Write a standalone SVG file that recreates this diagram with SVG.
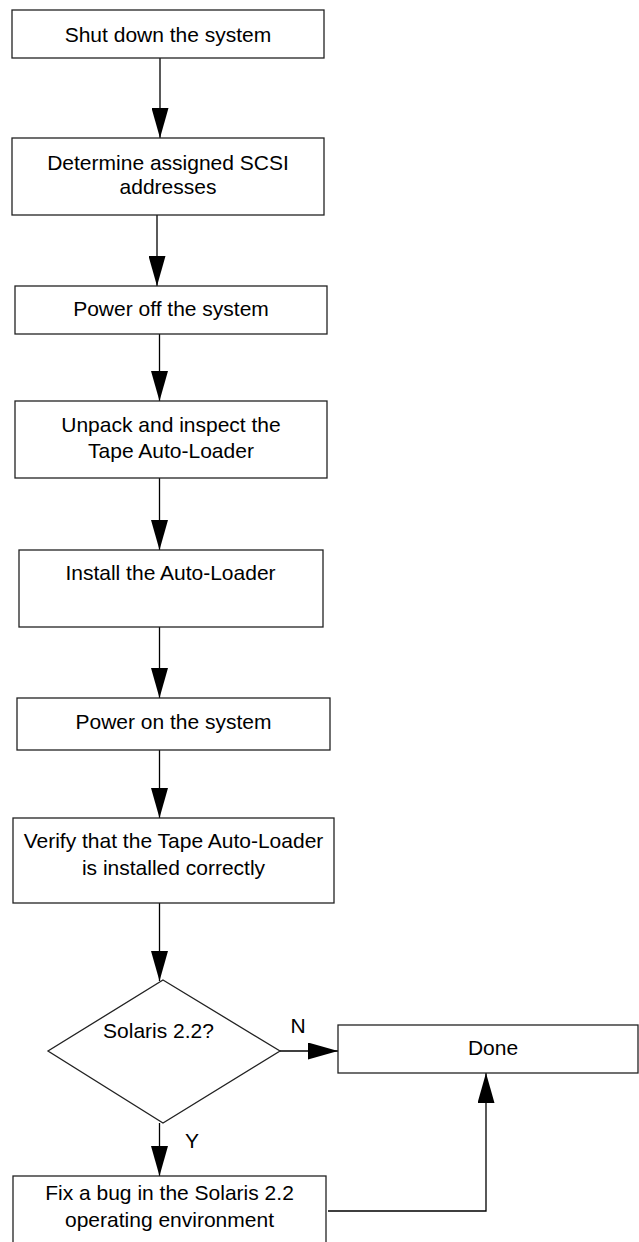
<svg xmlns="http://www.w3.org/2000/svg" width="639" height="1242" viewBox="0 0 639 1242">
<style>
.box{fill:#fff;stroke:#222;stroke-width:1.3}
.t{font-family:"Liberation Sans",Arial,sans-serif;font-size:21px;fill:#000;text-anchor:middle}
.c{fill:none;stroke:#000;stroke-width:1.3}
</style>
<defs>
<marker id="ah" markerUnits="userSpaceOnUse" markerWidth="30" markerHeight="17" refX="30" refY="8.5" orient="auto" viewBox="0 0 30 17">
<path d="M0,0 L30,8.5 L0,17 z" fill="#000"/>
</marker>
</defs>
<rect width="639" height="1242" fill="#fff"/>
<g id="connectors">
<line class="c" x1="160" y1="58" x2="160" y2="138" marker-end="url(#ah)"/>
<line class="c" x1="157" y1="215" x2="157" y2="286" marker-end="url(#ah)"/>
<line class="c" x1="159.5" y1="334" x2="159.5" y2="401" marker-end="url(#ah)"/>
<line class="c" x1="159.5" y1="478" x2="159.5" y2="550" marker-end="url(#ah)"/>
<line class="c" x1="159.5" y1="627" x2="159.5" y2="698" marker-end="url(#ah)"/>
<line class="c" x1="159.5" y1="750" x2="159.5" y2="818" marker-end="url(#ah)"/>
<line class="c" x1="159.5" y1="903" x2="159.5" y2="981" marker-end="url(#ah)"/>
<line class="c" x1="280" y1="1051" x2="338" y2="1051" marker-end="url(#ah)"/>
<line class="c" x1="159.5" y1="1123" x2="159.5" y2="1176" marker-end="url(#ah)"/>
<polyline class="c" points="328,1211 486,1211 486,1073" marker-end="url(#ah)"/>
<text class="t" x="298" y="1033">N</text>
<text class="t" x="192" y="1148">Y</text>
</g>
<g id="n1"><rect class="box" x="12" y="10" width="312" height="48"/><text class="t" x="168" y="42">Shut down the system</text></g>
<g id="n2"><rect class="box" x="12" y="138" width="312" height="77"/><text class="t" x="168" y="170">Determine assigned SCSI</text><text class="t" x="168" y="194">addresses</text></g>
<g id="n3"><rect class="box" x="15" y="286" width="312" height="48"/><text class="t" x="171" y="316">Power off the system</text></g>
<g id="n4"><rect class="box" x="15" y="401" width="312" height="77"/><text class="t" x="171" y="432">Unpack and inspect the</text><text class="t" x="171" y="458">Tape Auto-Loader</text></g>
<g id="n5"><rect class="box" x="19" y="550" width="304" height="77"/><text class="t" x="170.5" y="580">Install the Auto-Loader</text></g>
<g id="n6"><rect class="box" x="17" y="698" width="313" height="52"/><text class="t" x="173.5" y="729">Power on the system</text></g>
<g id="n7"><rect class="box" x="13" y="818" width="321" height="85"/><text class="t" x="173.5" y="848">Verify that the Tape Auto-Loader</text><text class="t" x="173.5" y="875">is installed correctly</text></g>
<g id="n8"><polygon class="box" points="163,980 280,1051 163,1123 48,1051"/><text class="t" x="158.5" y="1038">Solaris 2.2?</text></g>
<g id="n9"><rect class="box" x="338" y="1025" width="300" height="48"/><text class="t" x="493" y="1055">Done</text></g>
<g id="n10"><rect class="box" x="13" y="1176" width="313" height="80"/><text class="t" x="169.5" y="1200">Fix a bug in the Solaris 2.2</text><text class="t" x="169.5" y="1227">operating environment</text></g>
</svg>
